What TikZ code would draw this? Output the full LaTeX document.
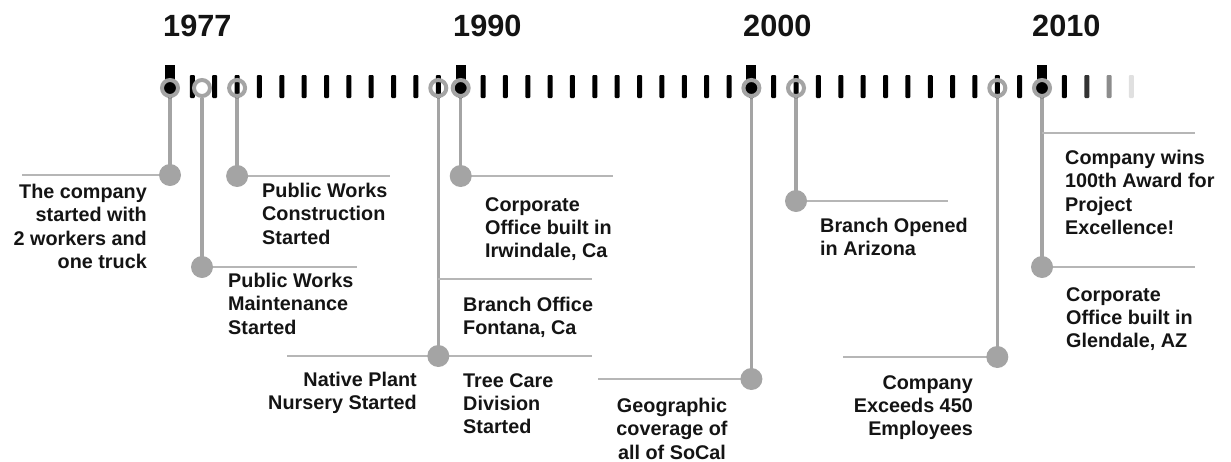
\documentclass[tikz,border=0pt]{standalone}
\usepackage{fontspec}
\setmainfont{Liberation Sans}
\usetikzlibrary{backgrounds}
\definecolor{dotgray}{HTML}{A4A4A4}
\definecolor{linegray}{HTML}{B6B6B6}
\definecolor{ink}{HTML}{141414}
\begin{document}
\begin{tikzpicture}[x=1pt,y=-1pt,
  year/.style={anchor=north west, inner sep=0pt, font=\fontsize{30.7}{36}\selectfont\bfseries, text=ink},
  evl/.style={inner sep=0pt, font=\fontsize{19.8}{23.3}\selectfont\bfseries, text=ink, align=left, anchor=north west},
  evr/.style={evl, align=right, anchor=north east},
  evc/.style={evl, align=center, anchor=north},
  marker/.style={circle, draw=dotgray, line width=4pt, minimum size=16pt, inner sep=0pt},
  yearmark/.style={marker, fill=black},
  eventmark/.style={marker},
  dot/.style={circle, fill=dotgray, minimum size=22pt, inner sep=0pt},
  stem/.style={draw=dotgray, line width=3.5pt},
  rule/.style={draw=linegray, line width=2pt},
  tickbar/.style={fill=#1, rounded corners=1pt},
  yearbar/.style={fill=black}
]
\useasboundingbox (0,0) rectangle (1231,461);

% ticks
\foreach \i in {0,...,40}{
  \fill[tickbar=black] ({170+\i*22.36-2.5},75) rectangle ({170+\i*22.36+2.5},98);
}
\fill[tickbar=black!80] ({170+41*22.36-2.5},75) rectangle ({170+41*22.36+2.5},98);
\fill[tickbar=black!45] ({170+42*22.36-2.5},75) rectangle ({170+42*22.36+2.5},98);
\fill[tickbar=black!12] ({170+43*22.36-2.5},75) rectangle ({170+43*22.36+2.5},98);

% year bars
\foreach \x in {170,460.7,751.4,1042}{
  \fill[yearbar] (\x-5,65) rectangle (\x+5,84);
}

% year labels
\node[year] (y1977) at (163,15) {1977};
\node[year] (y1990) at (453,15) {1990};
\node[year] (y2000) at (743,15) {2000};
\node[year] (y2010) at (1032,15) {2010};

% markers on the axis
\node[yearmark] (m1) at (170,88) {};
\node[eventmark, fill=white] (m2) at (202,88) {};
\node[eventmark] (m3) at (237.1,88) {};
\node[eventmark] (m4) at (438.3,88) {};
\node[yearmark] (m5) at (460.7,88) {};
\node[yearmark] (m6) at (751.4,88) {};
\node[eventmark] (m7) at (796,88) {};
\node[eventmark] (m8) at (997.3,88) {};
\node[yearmark] (m9) at (1042,88) {};

% dots
\node[dot] (d1) at (170,175) {};
\node[dot] (d2) at (202,267) {};
\node[dot] (d3) at (237.1,176) {};
\node[dot] (d4) at (438.3,356) {};
\node[dot] (d5) at (460.7,176) {};
\node[dot] (d6) at (751.4,379) {};
\node[dot] (d7) at (796,201) {};
\node[dot] (d8) at (997.3,357) {};
\node[dot] (d9) at (1042,267) {};

% free ends of rules
\coordinate (r1) at (22,175);
\coordinate (r2) at (357,267);
\coordinate (r3) at (390,176);
\coordinate (r4a) at (287,356);
\coordinate (r4b) at (592,356);
\coordinate (b4) at (438.3,279);
\coordinate (r4c) at (592,279);
\coordinate (r5) at (613,176);
\coordinate (r6) at (598,379);
\coordinate (r7) at (948,201);
\coordinate (r8) at (843,357);
\coordinate (r9) at (1195,267);
\coordinate (b9) at (1042,133);
\coordinate (r9b) at (1195,133);

\begin{scope}[on background layer]
  \foreach \k in {1,...,9}{ \draw[stem] (m\k.south) -- (d\k.center); }
  \draw[rule] (r1) -- (d1.center);
  \draw[rule] (d2.center) -- (r2);
  \draw[rule] (d3.center) -- (r3);
  \draw[rule] (r4a) -- (d4.center) -- (r4b);
  \draw[rule] (b4) -- (r4c);
  \draw[rule] (d5.center) -- (r5);
  \draw[rule] (r6) -- (d6.center);
  \draw[rule] (d7.center) -- (r7);
  \draw[rule] (r8) -- (d8.center);
  \draw[rule] (d9.center) -- (r9);
  \draw[rule] (b9) -- (r9b);
\end{scope}

% texts
\node[evr] (t1) at (147,184) {The company\\started with\\2 workers and\\one truck};
\node[evl] (t2) at (228,273) {Public Works\\Maintenance\\Started};
\node[evl] (t3) at (262,183) {Public Works\\Construction\\Started};
\node[evr] (t4a) at (417,372) {Native Plant\\Nursery Started};
\node[evl] (t4b) at (463,297) {Branch Office\\Fontana, Ca};
\node[evl] (t4c) at (463,373) {Tree Care\\Division\\Started};
\node[evl] (t5) at (485,197) {Corporate\\Office built in\\Irwindale, Ca};
\node[evc] (t6) at (672,398) {Geographic\\coverage of\\all of SoCal};
\node[evl] (t7) at (820,218) {Branch Opened\\in Arizona};
\node[evr] (t8) at (973,375) {Company\\Exceeds 450\\Employees};
\node[evl] (t9a) at (1065,150) {Company wins\\100th Award for\\Project\\Excellence!};
\node[evl] (t9b) at (1066,287) {Corporate\\Office built in\\Glendale, AZ};
\end{tikzpicture}
\end{document}
